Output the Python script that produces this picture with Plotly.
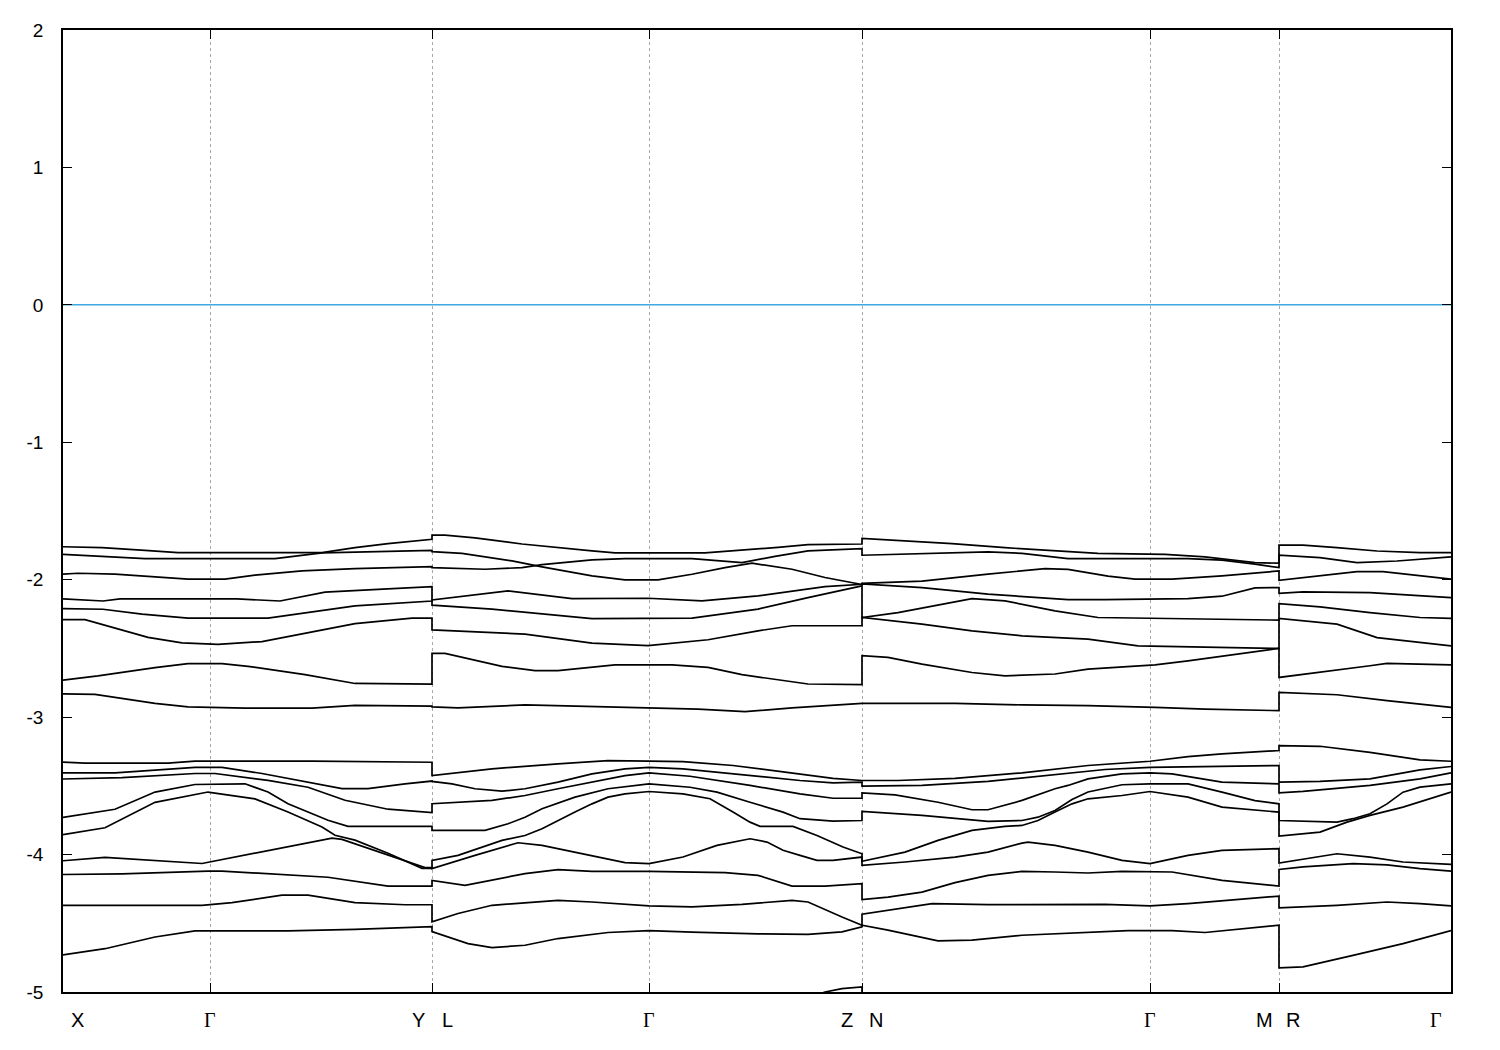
import plotly.graph_objects as go

# k-path positions of the high-symmetry points (arbitrary path-length units)
k_ticks = [0.0, 1.47, 3.69, 5.86, 7.99, 10.87, 12.16, 13.88]
tick_letters = [("X", 0, 14), ("Γ", 1, 0), ("Y", 2, -14), ("L", 2, 15), ("Γ", 3, 0),
                ("Z", 4, -15), ("N", 4, 14), ("Γ", 5, 0), ("M", 6, -15), ("R", 6, 14),
                ("Γ", 7, -15)]
energy_ticks = [2, 1, 0, -1, -2, -3, -4, -5]
energy_tick_text = ["2", "1", "0", "-1", "-2", "-3", "-4", "-5"]
fermi_level = 0.0

# bands: (k, E[eV]); repeated k at Y|L, Z|N, M|R = discontinuous path
band_A = [(0, -1.76), (0.39, -1.767), (0.82, -1.786), (1.15, -1.803), (2.59, -1.803), (2.92, -1.767),
          (3.25, -1.738), (3.69, -1.706), (3.69, -1.675), (3.82, -1.675), (4.12, -1.695), (4.59, -1.74),
          (5.29, -1.79), (5.52, -1.805), (6.42, -1.805), (6.72, -1.79), (7.15, -1.765), (7.45, -1.745),
          (7.99, -1.74), (7.99, -1.699), (8.35, -1.713), (8.89, -1.738), (9.42, -1.767), (10.35, -1.808),
          (11.02, -1.815), (11.42, -1.834), (11.92, -1.876), (12.16, -1.88), (12.16, -1.749),
          (12.40, -1.749), (12.74, -1.767), (13.14, -1.791), (13.57, -1.803), (13.88, -1.803)]
band_B = [(0, -1.815), (0.82, -1.847), (2.12, -1.847), (2.59, -1.805), (3.69, -1.786), (3.69, -1.796),
          (3.99, -1.808), (4.49, -1.863), (4.79, -1.907), (5.29, -1.972), (5.62, -2.001), (5.95, -2.001),
          (6.29, -1.96), (6.62, -1.912), (6.89, -1.88), (7.29, -1.924), (7.62, -1.984), (7.95, -2.033),
          (7.99, -2.035), (7.99, -2.026), (8.59, -2.01), (9.25, -1.96), (9.82, -1.919), (10.05, -1.925),
          (10.45, -1.974), (10.72, -1.996), (11.09, -1.996), (11.59, -1.972), (12.16, -1.936),
          (12.16, -2.004), (12.57, -1.972), (12.94, -1.941), (13.20, -1.941), (13.57, -1.972), (13.88, -1.996)]
band_C = [(0, -1.96), (0.15, -1.953), (0.52, -1.96), (0.82, -1.977), (1.25, -1.996), (1.62, -1.996),
          (1.92, -1.967), (2.39, -1.936), (2.92, -1.919), (3.69, -1.905), (3.69, -1.912), (4.22, -1.924),
          (4.59, -1.912), (4.79, -1.89), (5.29, -1.856), (5.62, -1.847), (6.29, -1.847), (6.79, -1.876),
          (7.12, -1.83), (7.45, -1.79), (7.99, -1.774), (7.99, -1.822), (8.35, -1.815), (9.25, -1.798),
          (9.59, -1.808), (10.05, -1.847), (11.25, -1.847), (11.59, -1.858), (11.92, -1.887), (12.16, -1.912),
          (12.16, -1.822), (12.57, -1.839), (12.94, -1.876), (13.34, -1.864), (13.88, -1.834)]
band_D = [(0, -2.14), (0.40, -2.155), (0.57, -2.14), (1.00, -2.14), (1.74, -2.14), (2.17, -2.155),
          (2.62, -2.09), (3.15, -2.07), (3.69, -2.05), (3.69, -2.185), (4.29, -2.214), (5.29, -2.283),
          (6.29, -2.28), (6.95, -2.214), (7.45, -2.13), (7.99, -2.045), (7.99, -2.275), (8.35, -2.239),
          (9.09, -2.137), (9.42, -2.154), (9.92, -2.227), (10.35, -2.275), (10.87, -2.282), (11.25, -2.282),
          (12.16, -2.294), (12.16, -2.282), (12.74, -2.323), (13.14, -2.421), (13.57, -2.457), (13.88, -2.481)]
band_E = [(0, -2.21), (0.40, -2.215), (0.79, -2.25), (1.25, -2.28), (2.05, -2.28), (2.92, -2.19),
          (3.69, -2.155), (3.69, -2.147), (4.45, -2.081), (5.09, -2.137), (5.85, -2.135), (6.39, -2.154),
          (6.95, -2.118), (7.62, -2.05), (7.99, -2.033), (7.99, -2.03), (8.59, -2.057), (9.25, -2.105),
          (10.05, -2.145), (10.42, -2.145), (11.25, -2.137), (11.59, -2.12), (11.92, -2.06), (12.16, -2.057),
          (12.16, -2.10), (12.40, -2.089), (13.07, -2.094), (13.57, -2.118), (13.88, -2.13)]
band_F = [(0, -2.29), (0.22, -2.29), (0.85, -2.42), (1.19, -2.46), (1.55, -2.47), (1.99, -2.45),
          (2.92, -2.32), (3.49, -2.28), (3.69, -2.28), (3.69, -2.365), (4.62, -2.396), (5.29, -2.461),
          (5.85, -2.48), (6.45, -2.437), (6.95, -2.372), (7.29, -2.335), (7.99, -2.335), (7.99, -2.275),
          (8.59, -2.323), (9.09, -2.372), (9.59, -2.408), (10.25, -2.432), (10.75, -2.481), (11.42, -2.488),
          (12.16, -2.50), (12.16, -2.174), (12.57, -2.198), (13.07, -2.239), (13.57, -2.275), (13.88, -2.282)]
band_G = [(0, -2.73), (0.35, -2.70), (0.92, -2.64), (1.25, -2.61), (1.59, -2.61), (1.85, -2.63),
          (2.42, -2.69), (2.92, -2.755), (3.69, -2.76), (3.69, -2.536), (3.82, -2.536), (4.39, -2.631),
          (4.72, -2.662), (4.95, -2.662), (5.52, -2.619), (6.09, -2.619), (6.45, -2.638), (6.79, -2.691),
          (7.45, -2.759), (7.99, -2.764), (7.99, -2.553), (8.25, -2.565), (8.59, -2.614), (9.09, -2.675),
          (9.42, -2.699), (9.92, -2.686), (10.25, -2.65), (10.92, -2.62), (11.25, -2.59), (12.16, -2.50),
          (12.16, -2.711), (12.57, -2.675), (13.07, -2.626), (13.24, -2.609), (13.88, -2.619)]
band_H = [(0, -2.83), (0.32, -2.835), (0.92, -2.90), (1.25, -2.925), (1.82, -2.935), (2.49, -2.935),
          (2.92, -2.915), (3.42, -2.915), (3.69, -2.92), (3.69, -2.925), (3.95, -2.933), (4.62, -2.911),
          (5.85, -2.929), (6.35, -2.941), (6.82, -2.96), (7.29, -2.933), (7.99, -2.90), (8.92, -2.90),
          (9.59, -2.911), (10.25, -2.916), (10.92, -2.929), (11.42, -2.941), (12.16, -2.953),
          (12.16, -2.82), (12.74, -2.837), (13.24, -2.88), (13.88, -2.929)]
band_I = [(0, -3.328), (0.22, -3.335), (1.05, -3.335), (1.32, -3.32), (2.49, -3.32), (3.69, -3.328),
          (3.69, -3.425), (4.29, -3.376), (4.95, -3.34), (5.45, -3.316), (5.86, -3.32), (6.20, -3.323),
          (6.70, -3.352), (7.20, -3.40), (7.70, -3.445), (7.99, -3.461), (8.35, -3.461), (8.92, -3.445),
          (9.59, -3.405), (10.25, -3.352), (10.59, -3.333), (10.87, -3.321), (11.25, -3.287), (11.59, -3.267),
          (12.16, -3.243), (12.16, -3.207), (12.57, -3.212), (13.07, -3.256), (13.57, -3.311), (13.88, -3.321)]
band_J = [(0, -3.405), (0.52, -3.405), (1.32, -3.365), (1.59, -3.365), (1.99, -3.41), (2.79, -3.52),
          (3.05, -3.52), (3.42, -3.485), (3.69, -3.465), (3.69, -3.468), (3.89, -3.485), (4.12, -3.521),
          (4.39, -3.539), (4.62, -3.521), (4.95, -3.473), (5.29, -3.413), (5.62, -3.376), (5.86, -3.365),
          (6.20, -3.376), (6.70, -3.413), (7.37, -3.461), (7.70, -3.478), (7.99, -3.473), (7.99, -3.502),
          (8.59, -3.497), (9.25, -3.468), (9.92, -3.42), (10.42, -3.381), (10.87, -3.365), (11.42, -3.36),
          (12.16, -3.352), (12.16, -3.473), (12.57, -3.468), (13.07, -3.449), (13.57, -3.384), (13.88, -3.359)]
band_K = [(0, -3.45), (0.59, -3.44), (1.32, -3.41), (1.52, -3.41), (2.05, -3.46), (2.45, -3.51),
          (2.82, -3.605), (3.25, -3.67), (3.69, -3.695), (3.69, -3.63), (4.29, -3.606), (4.62, -3.57),
          (4.95, -3.521), (5.29, -3.473), (5.62, -3.425), (5.86, -3.405), (6.27, -3.43), (6.87, -3.497),
          (7.37, -3.558), (7.70, -3.59), (7.99, -3.59), (7.99, -3.551), (8.32, -3.565), (8.75, -3.619),
          (9.09, -3.674), (9.25, -3.674), (9.59, -3.606), (9.92, -3.521), (10.05, -3.497), (10.25, -3.449),
          (10.59, -3.413), (10.87, -3.405), (11.09, -3.413), (11.59, -3.473), (12.16, -3.485),
          (12.16, -3.551), (12.40, -3.54), (13.07, -3.497), (13.57, -3.449), (13.88, -3.405)]
band_L = [(0, -3.73), (0.52, -3.67), (0.92, -3.545), (1.32, -3.49), (1.82, -3.485), (2.05, -3.545),
          (2.25, -3.63), (2.65, -3.75), (2.85, -3.795), (3.69, -3.795), (3.69, -3.824), (4.22, -3.824),
          (4.45, -3.776), (4.62, -3.728), (4.79, -3.667), (5.12, -3.582), (5.45, -3.521), (5.86, -3.485),
          (6.27, -3.51), (6.54, -3.546), (6.87, -3.619), (7.20, -3.691), (7.37, -3.739), (7.70, -3.757),
          (7.99, -3.752), (7.99, -3.686), (8.59, -3.715), (9.09, -3.752), (9.25, -3.759), (9.59, -3.752),
          (9.75, -3.728), (9.92, -3.679), (10.09, -3.60), (10.25, -3.545), (10.59, -3.492), (10.87, -3.485),
          (11.25, -3.485), (11.59, -3.546), (11.92, -3.607), (12.16, -3.631), (12.16, -3.752),
          (12.74, -3.764), (12.90, -3.739), (13.07, -3.703), (13.24, -3.631), (13.40, -3.546),
          (13.57, -3.509), (13.88, -3.485)]
band_M = [(0, -3.855), (0.42, -3.805), (0.92, -3.62), (1.45, -3.545), (1.92, -3.595), (2.25, -3.69),
          (2.59, -3.80), (2.72, -3.86), (2.92, -3.895), (3.25, -3.99), (3.59, -4.10), (3.69, -4.10),
          (3.69, -4.042), (3.95, -4.006), (4.39, -3.897), (4.62, -3.861), (4.79, -3.812), (4.95, -3.752),
          (5.12, -3.691), (5.29, -3.631), (5.45, -3.582), (5.62, -3.558), (5.86, -3.541), (6.20, -3.558),
          (6.47, -3.594), (6.70, -3.691), (6.87, -3.764), (6.97, -3.795), (7.30, -3.795), (7.54, -3.861),
          (7.80, -3.945), (7.99, -3.994), (7.99, -4.049), (8.42, -3.982), (8.75, -3.897), (9.09, -3.824),
          (9.42, -3.795), (9.59, -3.788), (9.75, -3.752), (9.92, -3.691), (10.09, -3.631), (10.25, -3.594),
          (10.59, -3.57), (10.87, -3.541), (11.25, -3.582), (11.59, -3.655), (12.16, -3.691),
          (12.16, -3.866), (12.57, -3.837), (12.84, -3.764), (13.07, -3.715), (13.40, -3.655), (13.88, -3.546)]
band_N = [(0, -4.045), (0.42, -4.02), (1.39, -4.065), (1.92, -3.99), (2.69, -3.88), (2.79, -3.89),
          (3.25, -4.005), (3.62, -4.095), (3.69, -4.095), (3.69, -4.102), (4.12, -4.006), (4.55, -3.914),
          (4.79, -3.933), (5.12, -3.982), (5.62, -4.059), (5.86, -4.066), (6.20, -4.018), (6.54, -3.933),
          (6.87, -3.885), (7.04, -3.909), (7.20, -3.969), (7.37, -4.006), (7.54, -4.042), (7.70, -4.042),
          (7.99, -4.018), (7.99, -4.078), (8.42, -4.054), (8.92, -4.018), (9.25, -3.982), (9.59, -3.917),
          (9.65, -3.909), (9.92, -3.933), (10.25, -3.982), (10.59, -4.042), (10.87, -4.066), (11.25, -4.006),
          (11.59, -3.97), (12.16, -3.957), (12.16, -4.062), (12.74, -3.994), (13.07, -4.018),
          (13.40, -4.054), (13.88, -4.071)]
band_O = [(0, -4.145), (0.59, -4.14), (1.45, -4.12), (1.59, -4.12), (2.65, -4.165), (3.25, -4.23),
          (3.69, -4.23), (3.69, -4.188), (4.02, -4.224), (4.62, -4.139), (4.95, -4.11), (5.29, -4.122),
          (5.86, -4.122), (6.62, -4.131), (6.95, -4.151), (7.29, -4.229), (7.62, -4.229), (7.99, -4.212),
          (7.99, -4.328), (8.25, -4.309), (8.59, -4.273), (8.92, -4.204), (9.25, -4.151), (9.59, -4.122),
          (9.92, -4.127), (10.25, -4.134), (10.59, -4.122), (10.87, -4.122), (11.09, -4.127), (11.59, -4.188),
          (12.16, -4.229), (12.16, -4.108), (12.40, -4.09), (12.90, -4.066), (13.24, -4.075),
          (13.57, -4.102), (13.88, -4.12)]
band_P = [(0, -4.37), (1.39, -4.37), (1.69, -4.35), (2.19, -4.295), (2.45, -4.295), (2.92, -4.35),
          (3.42, -4.365), (3.69, -4.365), (3.69, -4.49), (3.95, -4.429), (4.29, -4.369), (4.95, -4.333),
          (5.29, -4.345), (5.86, -4.374), (6.29, -4.381), (6.79, -4.362), (7.29, -4.333), (7.45, -4.345),
          (7.79, -4.454), (7.99, -4.514), (7.99, -4.434), (8.25, -4.405), (8.69, -4.357), (9.25, -4.364),
          (9.92, -4.362), (10.42, -4.362), (10.87, -4.374), (11.25, -4.357), (12.16, -4.302),
          (12.16, -4.388), (12.74, -4.369), (13.24, -4.345), (13.57, -4.357), (13.88, -4.374)]
band_Q = [(0, -4.73), (0.42, -4.685), (0.92, -4.60), (1.32, -4.555), (2.25, -4.555), (2.92, -4.545),
          (3.69, -4.525), (3.69, -4.56), (4.05, -4.648), (4.29, -4.677), (4.62, -4.66), (4.95, -4.611),
          (5.45, -4.567), (5.86, -4.553), (6.29, -4.565), (6.95, -4.577), (7.45, -4.58), (7.79, -4.563),
          (7.99, -4.525), (7.99, -4.514), (8.25, -4.55), (8.75, -4.628), (9.09, -4.623), (9.59, -4.587),
          (10.65, -4.553), (11.09, -4.553), (11.42, -4.567), (12.16, -4.514), (12.16, -4.824),
          (12.40, -4.817), (12.90, -4.733), (13.40, -4.648), (13.88, -4.553)]
band_R = [(7.40, -5.06), (7.62, -5.0), (7.79, -4.975), (7.99, -4.963), (7.99, -5.10), (8.50, -5.15)]

bands = [band_A, band_B, band_C, band_D, band_E, band_F, band_G, band_H, band_I,
         band_J, band_K, band_L, band_M, band_N, band_O, band_P, band_Q, band_R]

fig = go.Figure()

# Fermi level
fig.add_trace(go.Scatter(x=[k_ticks[0], k_ticks[-1]], y=[fermi_level, fermi_level], mode="lines",
                         line=dict(color="#3ea8e0", width=1.5), showlegend=False, hoverinfo="skip"))

for b in bands:
    fig.add_trace(go.Scatter(x=[p[0] for p in b], y=[p[1] for p in b], mode="lines",
                             line=dict(color="black", width=1.7), showlegend=False))

fig.update_layout(
    width=1500, height=1050,
    margin=dict(l=55, r=57, t=20, b=66),
    paper_bgcolor="white", plot_bgcolor="white",
    font=dict(family="Liberation Sans, Arial, sans-serif", size=19, color="black"),
)
fig.update_xaxes(
    range=[k_ticks[0], k_ticks[-1]], tickvals=k_ticks, showticklabels=False,
    ticks="inside", ticklen=9, tickwidth=1, tickcolor="black",
    showgrid=True, gridcolor="#a8a8a8", griddash="dot", gridwidth=1,
    showline=True, linecolor="black", linewidth=1.5, mirror="ticks", zeroline=False,
)
fig.update_yaxes(
    range=[-5, 2], tickvals=energy_ticks, ticktext=energy_tick_text,
    ticks="inside", ticklen=9, tickwidth=1, tickcolor="black",
    showgrid=False, showline=True, linecolor="black", linewidth=1.5, mirror="ticks",
    zeroline=False, ticklabelstandoff=14,
)

for txt, idx, dx in tick_letters:
    fam = "Liberation Serif, serif" if txt == "Γ" else "Liberation Sans, Arial, sans-serif"
    fig.add_annotation(x=k_ticks[idx], y=0, xref="x", yref="paper", text=txt, showarrow=False,
                       xanchor="center", yanchor="middle", xshift=dx, yshift=-28,
                       font=dict(family=fam, size=20, color="black"))

fig.write_html("out.html")
